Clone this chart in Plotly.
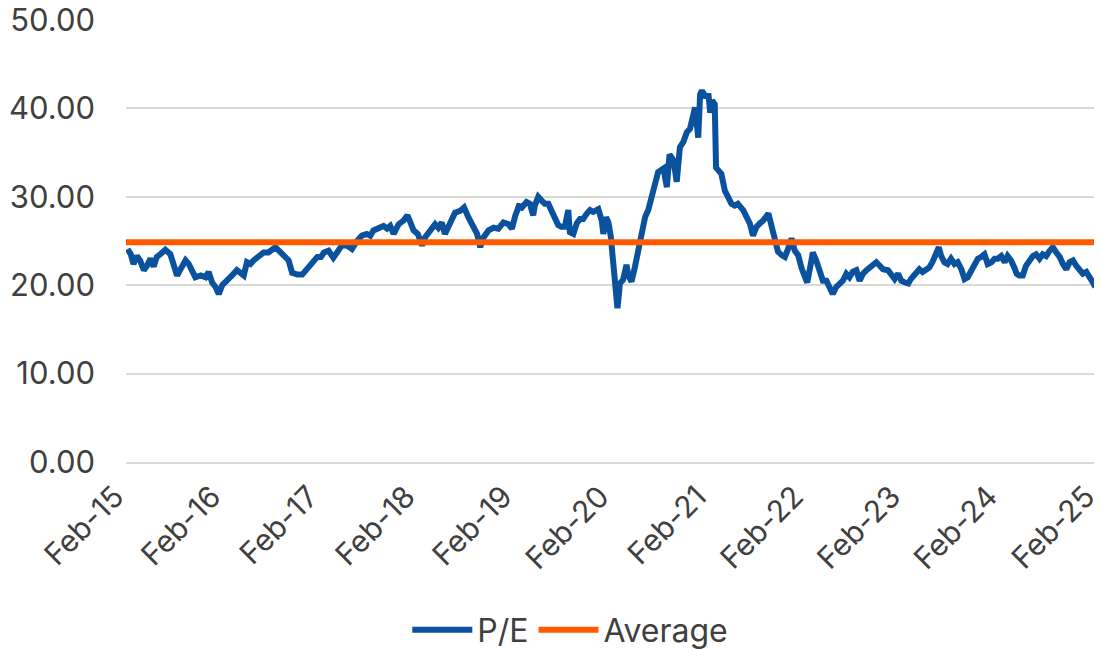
import plotly.graph_objects as go

dates = [
    "2015-02-07", "2015-02-19", "2015-03-01", "2015-03-14", "2015-03-26", "2015-04-09", "2015-04-21",
    "2015-05-04", "2015-05-16", "2015-05-28", "2015-06-10", "2015-06-29", "2015-07-18", "2015-07-30",
    "2015-08-12", "2015-08-25", "2015-09-13", "2015-09-25", "2015-10-08", "2015-10-20", "2015-11-09",
    "2015-11-27", "2015-12-09", "2015-12-22", "2016-01-04", "2016-01-16", "2016-01-29", "2016-02-17",
    "2016-03-06", "2016-03-24", "2016-04-07", "2016-04-19", "2016-05-01", "2016-05-14", "2016-05-26",
    "2016-06-14", "2016-07-03", "2016-07-21", "2016-08-04", "2016-08-16", "2016-09-05", "2016-09-23",
    "2016-10-05", "2016-10-18", "2016-11-07", "2016-11-25", "2016-12-14", "2017-01-02", "2017-01-21",
    "2017-02-03", "2017-02-15", "2017-03-04", "2017-03-22", "2017-04-05", "2017-04-23", "2017-05-12",
    "2017-05-31", "2017-06-19", "2017-07-07", "2017-07-26", "2017-08-08", "2017-08-20", "2017-09-09",
    "2017-09-27", "2017-10-10", "2017-10-22", "2017-11-04", "2017-11-23", "2017-12-11", "2017-12-26",
    "2018-01-06", "2018-01-18", "2018-02-03", "2018-02-19", "2018-03-02", "2018-03-20", "2018-04-09",
    "2018-04-21", "2018-05-04", "2018-05-16", "2018-05-28", "2018-06-11", "2018-06-23", "2018-07-12",
    "2018-07-27", "2018-08-12", "2018-09-01", "2018-09-14", "2018-09-26", "2018-10-08", "2018-10-27",
    "2018-11-15", "2018-12-03", "2018-12-22", "2019-01-10", "2019-01-23", "2019-02-05", "2019-02-21",
    "2019-02-24", "2019-03-06", "2019-03-19", "2019-04-01", "2019-04-13", "2019-04-19", "2019-05-02",
    "2019-05-14", "2019-05-27", "2019-06-09", "2019-06-21", "2019-07-04", "2019-07-16", "2019-07-28",
    "2019-08-10", "2019-08-23", "2019-08-29", "2019-09-11", "2019-09-24", "2019-10-06", "2019-10-18",
    "2019-11-01", "2019-11-13", "2019-11-25", "2019-12-14", "2019-12-27", "2020-01-02", "2020-01-12",
    "2020-01-21", "2020-01-30", "2020-02-07", "2020-02-13", "2020-02-19", "2020-02-24", "2020-03-01",
    "2020-03-04", "2020-03-16", "2020-03-29", "2020-04-05", "2020-04-17", "2020-04-30", "2020-05-12",
    "2020-05-25", "2020-06-07", "2020-06-19", "2020-07-01", "2020-07-14", "2020-07-26", "2020-08-15",
    "2020-08-28", "2020-09-07", "2020-09-22", "2020-10-04", "2020-10-16", "2020-10-29", "2020-11-11",
    "2020-11-23", "2020-11-30", "2020-12-12", "2020-12-24", "2020-12-31", "2021-01-07", "2021-01-19",
    "2021-02-01", "2021-02-07", "2021-02-14", "2021-02-24", "2021-03-01", "2021-03-21", "2021-04-03",
    "2021-04-15", "2021-04-28", "2021-05-10", "2021-05-22", "2021-06-11", "2021-06-23", "2021-07-06",
    "2021-07-18", "2021-07-31", "2021-08-13", "2021-08-25", "2021-09-14", "2021-09-26", "2021-10-08",
    "2021-10-20", "2021-11-03", "2021-11-15", "2021-11-27", "2021-12-10", "2021-12-22", "2022-01-04",
    "2022-01-17", "2022-01-29", "2022-02-07", "2022-02-18", "2022-02-28", "2022-03-13", "2022-03-25",
    "2022-04-07", "2022-04-20", "2022-05-02", "2022-05-14", "2022-05-27", "2022-06-09", "2022-06-21",
    "2022-07-04", "2022-07-16", "2022-07-28", "2022-08-11", "2022-08-23", "2022-09-05", "2022-09-18",
    "2022-09-30", "2022-10-12", "2022-10-25", "2022-11-07", "2022-11-19", "2022-12-08", "2022-12-20",
    "2023-01-02", "2023-01-15", "2023-01-27", "2023-02-10", "2023-02-22", "2023-03-04", "2023-03-17",
    "2023-04-05", "2023-04-17", "2023-04-30", "2023-05-12", "2023-05-24", "2023-06-07", "2023-06-17",
    "2023-06-26", "2023-07-08", "2023-07-20", "2023-08-02", "2023-08-15", "2023-08-27", "2023-09-10",
    "2023-09-22", "2023-10-04", "2023-10-17", "2023-10-29", "2023-11-11", "2023-11-24", "2023-12-06",
    "2023-12-18", "2024-01-01", "2024-01-13", "2024-01-25", "2024-02-07", "2024-02-20", "2024-03-02",
    "2024-03-15", "2024-03-27", "2024-04-05", "2024-04-15", "2024-04-28", "2024-05-10", "2024-05-23",
    "2024-06-05", "2024-06-17", "2024-06-30", "2024-07-12", "2024-07-25", "2024-08-07", "2024-08-19",
    "2024-09-01", "2024-09-14", "2024-09-26", "2024-10-09", "2024-10-21", "2024-11-03", "2024-11-15",
    "2024-11-28", "2024-12-10", "2024-12-23", "2025-01-05", "2025-01-17", "2025-01-26",
]

pe_values = [
    24.1, 23.5, 22.4, 23.3, 22.8, 21.7, 22.2,
    23.0, 22.1, 23.2, 23.5, 24.0, 23.5, 22.0,
    21.1, 21.8, 22.8, 22.4, 21.7, 20.9, 21.1,
    20.9, 21.5, 20.3, 19.8, 19.0, 20.0, 20.5,
    21.1, 21.7, 21.3, 21.1, 22.6, 22.4, 22.8,
    23.2, 23.7, 23.7, 24.1, 24.3, 23.7, 23.0,
    22.8, 21.4, 21.2, 21.2, 21.8, 22.6, 23.2,
    23.2, 23.7, 23.9, 23.1, 23.7, 24.5, 24.5,
    24.1, 25.0, 25.6, 25.8, 25.6, 26.2, 26.5,
    26.7, 26.4, 26.7, 25.8, 26.9, 27.3, 27.9,
    27.1, 26.2, 25.8, 24.5, 25.4, 26.2, 26.9,
    26.5, 27.1, 25.8, 26.5, 27.3, 28.2, 28.4,
    28.8, 27.7, 26.5, 25.8, 24.3, 25.4, 26.2,
    26.5, 26.4, 27.1, 26.9, 26.4, 27.9, 29.2,
    28.6, 29.0, 29.4, 29.2, 27.9, 29.0, 30.0,
    29.6, 29.2, 29.2, 28.3, 27.3, 26.8, 26.6,
    26.6, 28.5, 26.0, 25.8, 27.0, 27.5, 27.5,
    28.1, 28.5, 28.3, 28.6, 27.3, 25.8, 27.7,
    27.1, 25.5, 23.2, 20.6, 18.3, 17.4, 19.1,
    20.2, 20.6, 22.3, 21.1, 20.4, 22.1, 23.8,
    25.6, 27.7, 28.5, 30.0, 31.3, 32.8, 33.2,
    31.1, 34.8, 34.1, 31.7, 35.6, 36.2, 37.3,
    37.7, 38.8, 40.1, 36.7, 41.6, 42.0, 41.4,
    41.4, 39.5, 40.9, 40.5, 33.3, 32.6, 30.7,
    29.8, 29.2, 29.0, 29.2, 28.5, 27.7, 27.0,
    25.6, 26.6, 27.0, 27.3, 28.1, 26.6, 25.6,
    23.8, 23.4, 23.2, 24.1, 25.3, 23.9, 23.4,
    21.9, 20.9, 20.3, 22.0, 23.7, 22.8, 21.7,
    20.5, 20.5, 19.8, 19.0, 19.8, 20.2, 20.5,
    21.3, 20.9, 21.5, 21.7, 20.5, 21.3, 21.7,
    22.0, 22.2, 22.6, 22.2, 21.8, 21.7, 21.1,
    20.7, 21.3, 20.5, 20.3, 20.2, 20.7, 21.1,
    21.8, 21.5, 21.8, 22.0, 22.6, 23.5, 24.3,
    23.3, 22.6, 22.4, 23.0, 22.4, 22.6, 21.8,
    20.7, 20.9, 21.7, 22.4, 23.0, 23.2, 23.5,
    22.4, 22.6, 23.0, 23.0, 23.3, 22.6, 23.3,
    22.8, 22.0, 21.3, 21.1, 21.1, 22.2, 22.8,
    23.3, 23.5, 23.0, 23.5, 23.3, 23.9, 24.3,
    23.7, 23.2, 22.4, 21.8, 22.6, 22.8, 22.2,
    21.7, 21.3, 21.5, 20.7, 20.3, 19.8,
]

average_value = 24.85
average_dates = ["2015-02-01", "2025-02-01"]
average_values = [average_value, average_value]

tick_dates = ["2015-02-01", "2016-02-01", "2017-02-01", "2018-02-01", "2019-02-01", "2020-02-01",
              "2021-02-01", "2022-02-01", "2023-02-01", "2024-02-01", "2025-02-01"]
tick_labels = ["Feb-15", "Feb-16", "Feb-17", "Feb-18", "Feb-19", "Feb-20",
               "Feb-21", "Feb-22", "Feb-23", "Feb-24", "Feb-25"]
y_ticks = [0, 10, 20, 30, 40, 50]
y_labels = ["0.00", "10.00", "20.00", "30.00", "40.00", "50.00"]

BLUE = "#0B529E"
ORANGE = "#FF5A00"
TEXT = "#404040"
GRID = "#D9D9D9"
FONT = "Inter, Roboto, 'Open Sans', sans-serif"

fig = go.Figure()
fig.add_trace(go.Scatter(
    x=dates, y=pe_values, mode="lines", name="P/E",
    line=dict(color=BLUE, width=6),
))
fig.add_trace(go.Scatter(
    x=average_dates, y=average_values, mode="lines", name="Average",
    line=dict(color=ORANGE, width=6),
))

# the page body has an 8px margin, so the figure is sized to fill the rest of the window
fig.update_layout(
    width=1094, height=641,
    margin=dict(l=118, r=5, t=12, b=187, autoexpand=False),
    paper_bgcolor="white", plot_bgcolor="white",
    font=dict(family=FONT, size=31, color=TEXT),
    showlegend=True,
    legend=dict(orientation="h", xref="container", yref="container",
                x=0.514, xanchor="center", y=0.0296, yanchor="middle",
                font=dict(size=32, color=TEXT), itemwidth=60, traceorder="normal"),
    xaxis=dict(
        type="date", range=["2015-02-01", "2025-02-01 06:00"],
        tickmode="array", tickvals=tick_dates, ticktext=tick_labels,
        tickangle=-45, showgrid=False, zeroline=False,
        showline=True, linecolor=GRID, linewidth=2,
        ticks="", ticklabelstandoff=3, ticklabelshift=-11, automargin=False,
        ticklabeloverflow="allow",
        tickfont=dict(size=30, color=TEXT),
    ),
    yaxis=dict(
        range=[0, 50], tickmode="array", tickvals=y_ticks, ticktext=y_labels,
        showgrid=True, gridcolor=GRID, gridwidth=2, zeroline=False,
        showline=False, ticks="", ticklabelstandoff=30, automargin=False,
        ticklabeloverflow="allow",
        tickfont=dict(size=31, color=TEXT),
    ),
)

fig.write_html("out.html")
